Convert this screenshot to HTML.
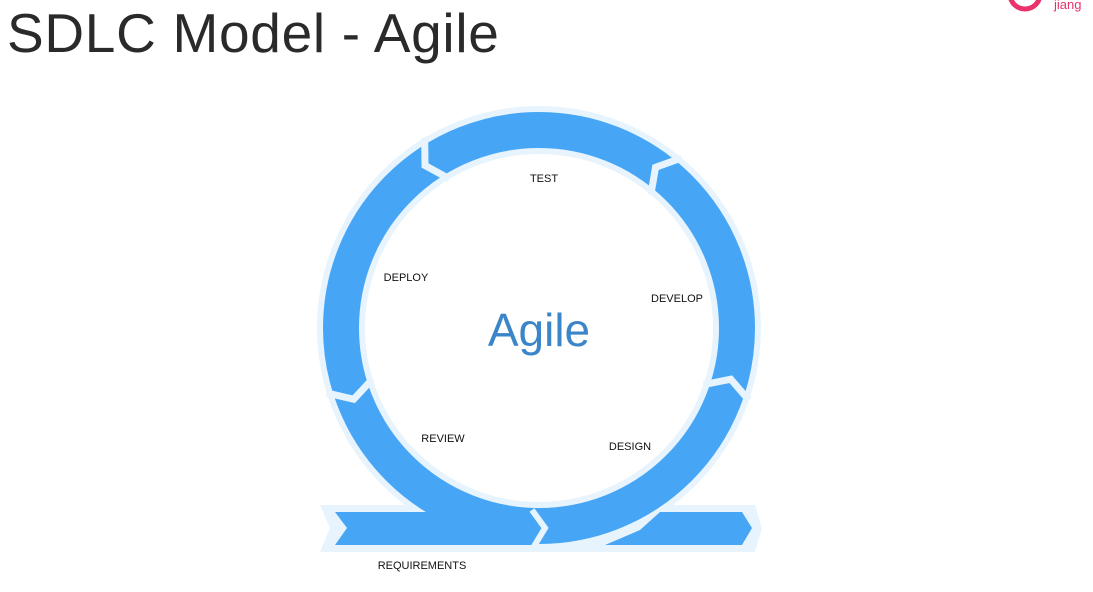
<!DOCTYPE html>
<html><head><style>
body{margin:0;width:1093px;height:592px;background:#fff;overflow:hidden;position:relative;font-family:"Liberation Sans",sans-serif}
.t{position:absolute;left:7px;top:1px;font-size:55px;font-weight:300;color:#2a2a2a;letter-spacing:0.7px}
svg{position:absolute;left:0;top:0}
</style></head><body>
<svg width="1093" height="592">
<circle cx="1025" cy="-6" r="15" fill="none" stroke="#e8336b" stroke-width="5"/>
<text x="1054" y="9" font-family="Liberation Sans" font-size="13" fill="#e8336b">jiang</text>
<circle cx="539" cy="328" r="198" fill="none" stroke="#e8f4fd" stroke-width="48"/>
<polygon points="320,505 755,505 762,528 755,552 320,552 330,528" fill="#e8f4fd"/>
<circle cx="539" cy="328" r="198" fill="none" stroke="#46a6f5" stroke-width="36"/>
<g stroke="#e8f4fd" stroke-width="7" fill="none">
<polyline points="761,328 737,314 713,328" transform="rotate(-121 539 328)"/>
<polyline points="761,328 737,314 713,328" transform="rotate(-50 539 328)"/>
<polyline points="761,328 737,314 713,328" transform="rotate(19 539 328)"/>
<polyline points="761,328 737,314 713,328" transform="rotate(163 539 328)"/>
</g>
<polygon points="335,512 535,512 545,528 535,545 335,545 347,528" fill="#46a6f5"/>
<polygon points="660,512 742,512 752,528 742,545 605,545 640,530" fill="#46a6f5"/>
<polyline points="532,510 545,528 533,548" stroke="#e8f4fd" stroke-width="6" fill="none"/>
<g font-family="Liberation Sans" font-size="11" fill="#111" text-anchor="middle">
<text x="544" y="182">TEST</text>
<text x="406" y="281">DEPLOY</text>
<text x="677" y="302">DEVELOP</text>
<text x="443" y="442">REVIEW</text>
<text x="630" y="450">DESIGN</text>
<text x="422" y="569">REQUIREMENTS</text>
</g>
<text x="539" y="346" text-anchor="middle" font-family="Liberation Sans" font-size="46" fill="#3a86c8">Agile</text>
</svg>
<div class="t">SDLC Model - Agile</div>
</body></html>
